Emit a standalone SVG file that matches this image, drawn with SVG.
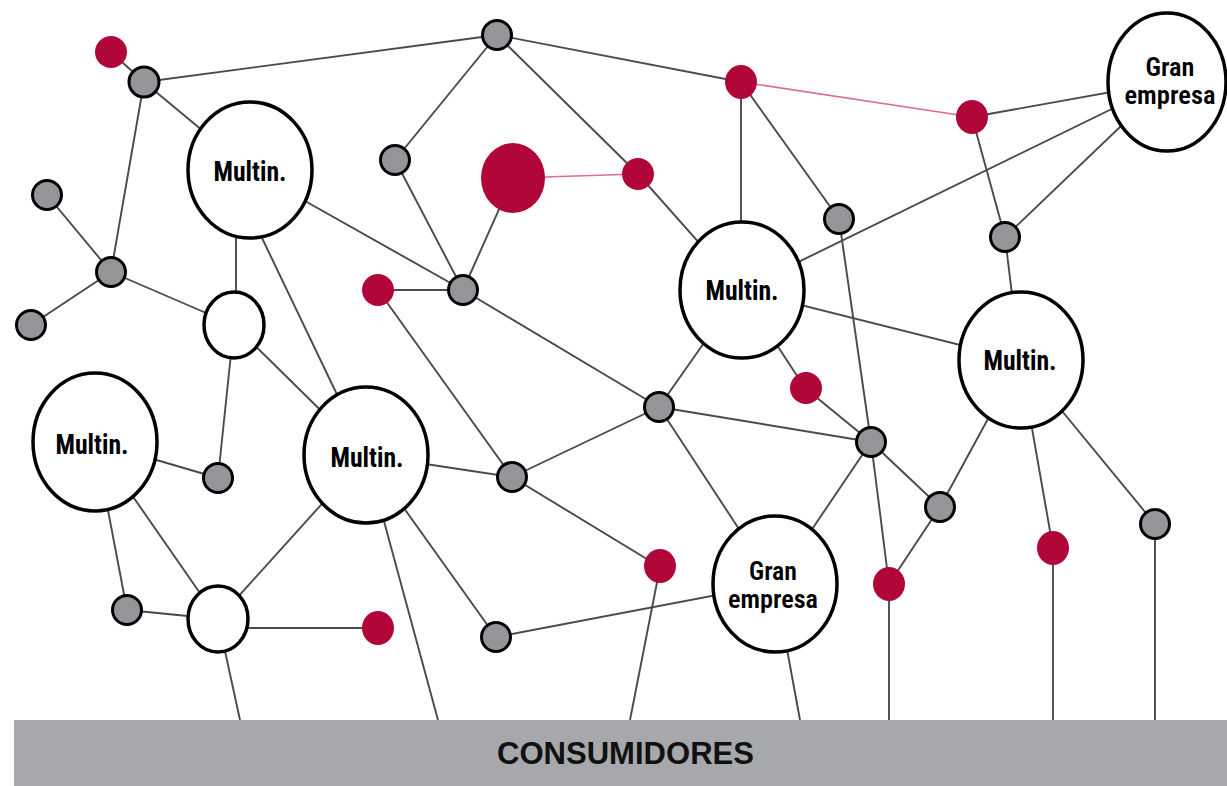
<svg xmlns="http://www.w3.org/2000/svg" width="1227" height="786" viewBox="0 0 1227 786">
<style>
.e{stroke:#4a4a4a;stroke-width:1.9;fill:none}
.er{stroke:#dc6f8a;stroke-width:1.6;fill:none}
.g{fill:#939598;stroke:#000;stroke-width:3}
.r{fill:#b00738}
.w{fill:#fff;stroke:#000;stroke-width:3.5}
.big{font-family:"Liberation Sans Narrow","Roboto Condensed","Liberation Sans",sans-serif;font-weight:bold;font-size:27px;fill:#000;text-anchor:middle}
.gr{font-family:"Liberation Sans Narrow","Roboto Condensed","Liberation Sans",sans-serif;font-weight:600;font-size:26px;fill:#000;text-anchor:middle}
.bar{font-family:"Liberation Sans","Arial",sans-serif;font-weight:bold;font-size:31px;fill:#111;text-anchor:middle}
</style>
<rect width="1227" height="786" fill="#fff"/>
<g id="connectors">
<line class="e" x1="111" y1="52" x2="144" y2="82"/>
<line class="e" x1="144" y1="82" x2="497" y2="35"/>
<line class="e" x1="144" y1="82" x2="250" y2="170"/>
<line class="e" x1="144" y1="82" x2="111" y2="272"/>
<line class="e" x1="47" y1="195" x2="111" y2="272"/>
<line class="e" x1="31" y1="325" x2="111" y2="272"/>
<line class="e" x1="111" y1="272" x2="234" y2="325"/>
<line class="e" x1="236" y1="200" x2="236" y2="325"/>
<line class="e" x1="262" y1="238" x2="366" y2="455"/>
<line class="e" x1="250" y1="170" x2="463" y2="290"/>
<line class="e" x1="497" y1="35" x2="395" y2="160"/>
<line class="e" x1="497" y1="35" x2="638" y2="174"/>
<line class="e" x1="497" y1="35" x2="741" y2="82"/>
<line class="er" x1="741" y1="82" x2="972" y2="117"/>
<line class="e" x1="972" y1="117" x2="1167" y2="82"/>
<line class="e" x1="395" y1="160" x2="463" y2="290"/>
<line class="e" x1="513" y1="178" x2="463" y2="290"/>
<line class="er" x1="513" y1="178" x2="638" y2="174"/>
<line class="e" x1="638" y1="174" x2="741" y2="290"/>
<line class="e" x1="741" y1="82" x2="741" y2="290"/>
<line class="e" x1="741" y1="82" x2="839" y2="219"/>
<line class="e" x1="839" y1="219" x2="871" y2="442"/>
<line class="e" x1="1167" y1="82" x2="741" y2="290"/>
<line class="e" x1="1167" y1="82" x2="1005" y2="237"/>
<line class="e" x1="972" y1="117" x2="1005" y2="237"/>
<line class="e" x1="1005" y1="237" x2="1020" y2="360"/>
<line class="e" x1="741" y1="290" x2="1020" y2="360"/>
<line class="e" x1="378" y1="290" x2="463" y2="290"/>
<line class="e" x1="378" y1="290" x2="512" y2="477"/>
<line class="e" x1="463" y1="290" x2="659" y2="407"/>
<line class="e" x1="741" y1="290" x2="659" y2="407"/>
<line class="e" x1="741" y1="290" x2="805" y2="388"/>
<line class="e" x1="805" y1="388" x2="871" y2="442"/>
<line class="e" x1="659" y1="407" x2="871" y2="442"/>
<line class="e" x1="659" y1="407" x2="512" y2="477"/>
<line class="e" x1="659" y1="407" x2="775" y2="584"/>
<line class="e" x1="775" y1="584" x2="871" y2="442"/>
<line class="e" x1="871" y1="442" x2="889" y2="584"/>
<line class="e" x1="871" y1="442" x2="940" y2="507"/>
<line class="e" x1="940" y1="507" x2="1020" y2="360"/>
<line class="e" x1="940" y1="507" x2="889" y2="584"/>
<line class="e" x1="1020" y1="360" x2="1053" y2="548"/>
<line class="e" x1="1020" y1="360" x2="1155" y2="524"/>
<line class="e" x1="1155" y1="524" x2="1155" y2="720"/>
<line class="e" x1="1053" y1="548" x2="1053" y2="720"/>
<line class="e" x1="889" y1="584" x2="889" y2="720"/>
<line class="e" x1="775" y1="584" x2="800" y2="720"/>
<line class="e" x1="660" y1="567" x2="630" y2="720"/>
<line class="e" x1="512" y1="477" x2="660" y2="567"/>
<line class="e" x1="512" y1="477" x2="366" y2="455"/>
<line class="e" x1="366" y1="455" x2="496" y2="637"/>
<line class="e" x1="496" y1="637" x2="775" y2="584"/>
<line class="e" x1="366" y1="455" x2="438" y2="720"/>
<line class="e" x1="366" y1="455" x2="218" y2="619"/>
<line class="e" x1="234" y1="325" x2="366" y2="455"/>
<line class="e" x1="234" y1="325" x2="218" y2="478"/>
<line class="e" x1="95" y1="442" x2="218" y2="478"/>
<line class="e" x1="95" y1="442" x2="127" y2="610"/>
<line class="e" x1="95" y1="442" x2="218" y2="619"/>
<line class="e" x1="127" y1="610" x2="218" y2="619"/>
<line class="e" x1="218" y1="628" x2="378" y2="628"/>
<line class="e" x1="218" y1="619" x2="240" y2="720"/>
</g>
<g id="consumidores">
<rect x="14" y="720" width="1213" height="66" fill="#a7a8ab"/>
<text class="bar" x="625.5" y="764" textLength="257" lengthAdjust="spacingAndGlyphs">CONSUMIDORES</text>
</g>
<g id="n-r1"><circle class="r" cx="111" cy="52" r="16"/></g>
<g id="n-g1"><circle class="g" cx="144" cy="82" r="15"/></g>
<g id="n-multinA"><ellipse class="w" cx="250" cy="170" rx="62" ry="68"/><text class="big" x="250" y="181" textLength="73" lengthAdjust="spacingAndGlyphs">Multin.</text></g>
<g id="n-g2"><circle class="g" cx="47" cy="195" r="14.5"/></g>
<g id="n-g3"><circle class="g" cx="111" cy="272" r="14.5"/></g>
<g id="n-g4"><circle class="g" cx="31" cy="325" r="14.5"/></g>
<g id="n-w1"><ellipse class="w" cx="234" cy="325" rx="30" ry="33"/></g>
<g id="n-g5"><circle class="g" cx="395" cy="160" r="14.5"/></g>
<g id="n-r2"><circle class="r" cx="378" cy="290" r="16"/></g>
<g id="n-g6"><circle class="g" cx="463" cy="290" r="14.5"/></g>
<g id="n-g7"><circle class="g" cx="497" cy="35" r="14.5"/></g>
<g id="n-rbig"><ellipse class="r" cx="513" cy="178" rx="32" ry="35"/></g>
<g id="n-r3"><circle class="r" cx="638" cy="174" r="16"/></g>
<g id="n-r4"><ellipse class="r" cx="741" cy="82" rx="16" ry="17"/></g>
<g id="n-multinB"><ellipse class="w" cx="742" cy="290" rx="62" ry="68"/><text class="big" x="742" y="300" textLength="73" lengthAdjust="spacingAndGlyphs">Multin.</text></g>
<g id="n-r5"><ellipse class="r" cx="972" cy="117" rx="16" ry="17"/></g>
<g id="n-granTop"><ellipse class="w" cx="1167" cy="82" rx="59" ry="69"/><text class="gr" x="1170" y="76" textLength="49" lengthAdjust="spacingAndGlyphs">Gran</text><text class="gr" x="1170" y="104" textLength="91" lengthAdjust="spacingAndGlyphs">empresa</text></g>
<g id="n-g8"><circle class="g" cx="839" cy="219" r="14.5"/></g>
<g id="n-g9"><circle class="g" cx="1005" cy="237" r="14.5"/></g>
<g id="n-multinC"><ellipse class="w" cx="1021" cy="360" rx="62" ry="68"/><text class="big" x="1020" y="370" textLength="73" lengthAdjust="spacingAndGlyphs">Multin.</text></g>
<g id="n-r6"><circle class="r" cx="806" cy="388" r="16"/></g>
<g id="n-g10"><circle class="g" cx="659" cy="407" r="14.5"/></g>
<g id="n-g11"><circle class="g" cx="871" cy="442" r="14.5"/></g>
<g id="n-g12"><circle class="g" cx="940" cy="507" r="14.5"/></g>
<g id="n-r7"><ellipse class="r" cx="889" cy="584" rx="16" ry="17"/></g>
<g id="n-r8"><ellipse class="r" cx="1053" cy="548" rx="16" ry="17"/></g>
<g id="n-g13"><circle class="g" cx="1155" cy="524" r="14.5"/></g>
<g id="n-granBottom"><ellipse class="w" cx="775" cy="584" rx="62" ry="68"/><text class="gr" x="773" y="580" textLength="48" lengthAdjust="spacingAndGlyphs">Gran</text><text class="gr" x="773" y="608" textLength="90" lengthAdjust="spacingAndGlyphs">empresa</text></g>
<g id="n-r9"><ellipse class="r" cx="660" cy="566" rx="16" ry="17"/></g>
<g id="n-g14"><circle class="g" cx="512" cy="477" r="14.5"/></g>
<g id="n-g15"><circle class="g" cx="496" cy="637" r="14.5"/></g>
<g id="n-multinD"><ellipse class="w" cx="366" cy="455" rx="62" ry="68"/><text class="big" x="367" y="467" textLength="73" lengthAdjust="spacingAndGlyphs">Multin.</text></g>
<g id="n-multinE"><ellipse class="w" cx="95" cy="442" rx="62" ry="69"/><text class="big" x="92" y="454" textLength="73" lengthAdjust="spacingAndGlyphs">Multin.</text></g>
<g id="n-g16"><circle class="g" cx="218" cy="478" r="14.5"/></g>
<g id="n-g17"><circle class="g" cx="127" cy="610" r="14.5"/></g>
<g id="n-w2"><ellipse class="w" cx="218" cy="619" rx="30" ry="33"/></g>
<g id="n-r10"><ellipse class="r" cx="378" cy="628" rx="16" ry="17"/></g>
</svg>
